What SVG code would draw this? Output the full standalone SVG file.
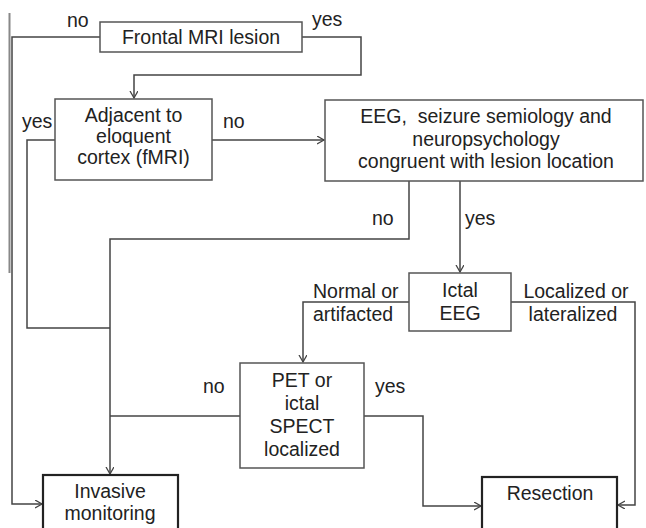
<svg xmlns="http://www.w3.org/2000/svg" width="646" height="528" viewBox="0 0 646 528">
<defs>
<marker id="arr" markerUnits="userSpaceOnUse" markerWidth="10" markerHeight="10" refX="7" refY="4" orient="auto">
<path d="M0,0 L7,4 L0,8" fill="none" stroke="#444" stroke-width="1.3"/>
</marker>
<style>
text{font-family:"Liberation Sans",Arial,sans-serif;font-size:19.5px;fill:#222}
.c{text-anchor:middle}
.box{fill:#fff;stroke:#555;stroke-width:1.5}
.box2{fill:#fff;stroke:#222;stroke-width:2.2}
.ln{fill:none;stroke:#444;stroke-width:1.5}
</style>
</defs>
<rect width="646" height="528" fill="#fff"/>
<g id="connectors">
<path class="ln" d="M9.5,13 V273" style="stroke:#888;stroke-width:2"/>
<path class="ln" d="M100,37 H12 V504 H42" marker-end="url(#arr)"/>
<path class="ln" d="M302,37 H361 V75 H134 V98" marker-end="url(#arr)"/>
<path class="ln" d="M212,140 H324" marker-end="url(#arr)"/>
<path class="ln" d="M55,140 H27 V328 H110"/>
<path class="ln" d="M409,181 V239 H110 V474" marker-end="url(#arr)"/>
<path class="ln" d="M460,181 V272" marker-end="url(#arr)"/>
<path class="ln" d="M409,302 H303 V362" marker-end="url(#arr)"/>
<path class="ln" d="M511,302 H635 V505 H618" marker-end="url(#arr)"/>
<path class="ln" d="M240,416 H110"/>
<path class="ln" d="M364,416 H423 V506 H481" marker-end="url(#arr)"/>
</g>
<g id="labels">
<text x="67" y="27">no</text>
<text x="312" y="26">yes</text>
<text x="22" y="128">yes</text>
<text x="223" y="128">no</text>
<text x="372" y="225">no</text>
<text x="465" y="225">yes</text>
<text x="313" y="298">Normal or</text>
<text x="313" y="321">artifacted</text>
<text class="c" x="576" y="298">Localized or</text>
<text class="c" x="573" y="321">lateralized</text>
<text x="203" y="393">no</text>
<text x="375" y="393">yes</text>
</g>
<g id="frontal">
<rect class="box" x="100" y="22" width="202" height="30"/>
<text class="c" x="201" y="44">Frontal MRI lesion</text>
</g>
<g id="adjacent">
<rect class="box" x="55" y="99" width="157" height="81"/>
<text class="c" x="133.5" y="122">Adjacent to</text>
<text class="c" x="133.5" y="143">eloquent</text>
<text class="c" x="133.5" y="164">cortex (fMRI)</text>
</g>
<g id="eeg">
<rect class="box" x="325" y="100" width="318" height="81"/>
<text class="c" x="486" y="123" style="white-space:pre">EEG,  seizure semiology and</text>
<text class="c" x="486" y="145.5">neuropsychology</text>
<text class="c" x="486" y="168">congruent with lesion location</text>
</g>
<g id="ictal">
<rect class="box" x="409" y="273" width="102" height="58"/>
<text class="c" x="460" y="297">Ictal</text>
<text class="c" x="460" y="320">EEG</text>
</g>
<g id="pet">
<rect class="box" x="240" y="363" width="124" height="105"/>
<text class="c" x="302" y="387">PET or</text>
<text class="c" x="302" y="410">ictal</text>
<text class="c" x="302" y="433">SPECT</text>
<text class="c" x="302" y="456">localized</text>
</g>
<g id="invasive">
<rect class="box2" x="43" y="475" width="135" height="62"/>
<text class="c" x="110" y="498">Invasive</text>
<text class="c" x="110" y="520">monitoring</text>
</g>
<g id="resection">
<rect class="box2" x="482" y="477" width="135" height="62"/>
<text class="c" x="550" y="500">Resection</text>
</g>
</svg>
